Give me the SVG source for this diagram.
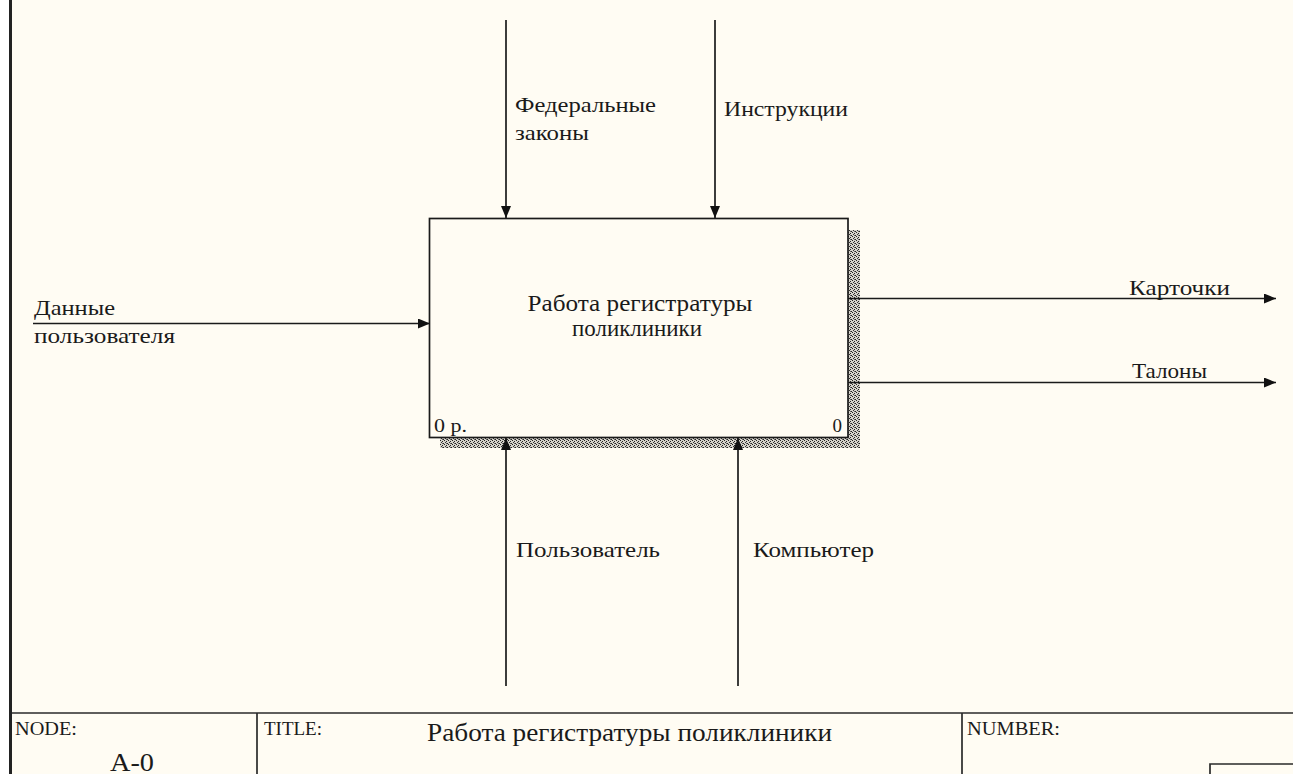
<svg xmlns="http://www.w3.org/2000/svg" width="1293" height="774" viewBox="0 0 1293 774">
<defs>
<style>
.t{font-family:"Liberation Serif","Times New Roman",serif;fill:#1a1a1a;}
.lbl{font-size:22px;}
.ln{stroke:#1a1a1a;stroke-width:1.7;fill:none;}
.frame{stroke:#2a2a2a;stroke-width:1.7;fill:none;}
</style>
<marker id="ah" viewBox="0 0 12 10" refX="12" refY="5" markerWidth="12" markerHeight="10" markerUnits="userSpaceOnUse" orient="auto">
<path d="M0,0 L12,5 L0,10 z" fill="#111"/>
</marker>
<pattern id="hatch" width="4" height="4" patternUnits="userSpaceOnUse">
<rect width="4" height="4" fill="#d6d3ca"/>
<rect x="0" y="0" width="1" height="1" fill="#222"/>
<rect x="2" y="1" width="1" height="1" fill="#222"/>
<rect x="1" y="2" width="1" height="1" fill="#333"/>
<rect x="3" y="3" width="1" height="1" fill="#222"/>
<rect x="2" y="3" width="1" height="1" fill="#666"/>
</pattern>
</defs>
<rect x="0" y="0" width="1293" height="774" fill="#ffffff"/>
<rect x="12" y="0" width="1281" height="774" fill="#fffcf3"/>
<line x1="10.5" y1="0" x2="10.5" y2="774" stroke="#222" stroke-width="3"/>

<g id="node-A0">
<rect x="848" y="230" width="12" height="218" fill="url(#hatch)"/>
<rect x="440" y="438" width="420" height="10" fill="url(#hatch)"/>
<rect x="429.5" y="218.5" width="418.5" height="219" fill="#fffcf3" stroke="#1a1a1a" stroke-width="1.7"/>
<text class="t" x="640" y="311" font-size="24" text-anchor="middle" textLength="225" lengthAdjust="spacingAndGlyphs">Работа регистратуры</text>
<text class="t" x="637" y="336" font-size="24" text-anchor="middle" textLength="130" lengthAdjust="spacingAndGlyphs">поликлиники</text>
<text class="t" x="434" y="432" font-size="19" textLength="33" lengthAdjust="spacingAndGlyphs">0 р.</text>
<text class="t" x="842" y="432" font-size="19" text-anchor="end">0</text>
</g>

<g id="connectors">
<line class="ln" x1="506" y1="20" x2="506" y2="218" marker-end="url(#ah)"/>
<line class="ln" x1="715" y1="20" x2="715" y2="218" marker-end="url(#ah)"/>
<line class="ln" x1="33" y1="323.5" x2="430" y2="323.5" marker-end="url(#ah)"/>
<line class="ln" x1="848" y1="298.5" x2="1276" y2="298.5" marker-end="url(#ah)"/>
<line class="ln" x1="848" y1="382.5" x2="1276" y2="382.5" marker-end="url(#ah)"/>
<line class="ln" x1="506" y1="686" x2="506" y2="438" marker-end="url(#ah)"/>
<line class="ln" x1="738" y1="686" x2="738" y2="438" marker-end="url(#ah)"/>
</g>

<g id="labels">
<text class="t lbl" x="515" y="112" textLength="141" lengthAdjust="spacingAndGlyphs">Федеральные</text>
<text class="t lbl" x="515" y="140" textLength="74" lengthAdjust="spacingAndGlyphs">законы</text>
<text class="t lbl" x="724" y="116" textLength="124" lengthAdjust="spacingAndGlyphs">Инструкции</text>
<text class="t lbl" x="34" y="315" textLength="81" lengthAdjust="spacingAndGlyphs">Данные</text>
<text class="t lbl" x="34" y="343" textLength="141" lengthAdjust="spacingAndGlyphs">пользователя</text>
<text class="t lbl" x="1129" y="295" textLength="101" lengthAdjust="spacingAndGlyphs">Карточки</text>
<text class="t lbl" x="1132" y="378" textLength="75" lengthAdjust="spacingAndGlyphs">Талоны</text>
<text class="t lbl" x="516" y="557" textLength="144" lengthAdjust="spacingAndGlyphs">Пользователь</text>
<text class="t lbl" x="753" y="557" textLength="121" lengthAdjust="spacingAndGlyphs">Компьютер</text>
</g>

<g id="footer">
<line class="frame" x1="12" y1="713" x2="1293" y2="713"/>
<line class="frame" x1="257" y1="713" x2="257" y2="774"/>
<line class="frame" x1="962" y1="713" x2="962" y2="774"/>
<polyline class="frame" points="1210,774 1210,764 1293,764"/>
<text class="t" x="15" y="735" font-size="18" textLength="62" lengthAdjust="spacingAndGlyphs">NODE:</text>
<text class="t" x="110" y="771" font-size="25" textLength="44" lengthAdjust="spacingAndGlyphs">A-0</text>
<text class="t" x="264" y="735" font-size="18" textLength="58" lengthAdjust="spacingAndGlyphs">TITLE:</text>
<text class="t" x="427" y="741" font-size="26" textLength="405" lengthAdjust="spacingAndGlyphs">Работа регистратуры поликлиники</text>
<text class="t" x="967" y="735" font-size="18" textLength="93" lengthAdjust="spacingAndGlyphs">NUMBER:</text>
</g>
</svg>
